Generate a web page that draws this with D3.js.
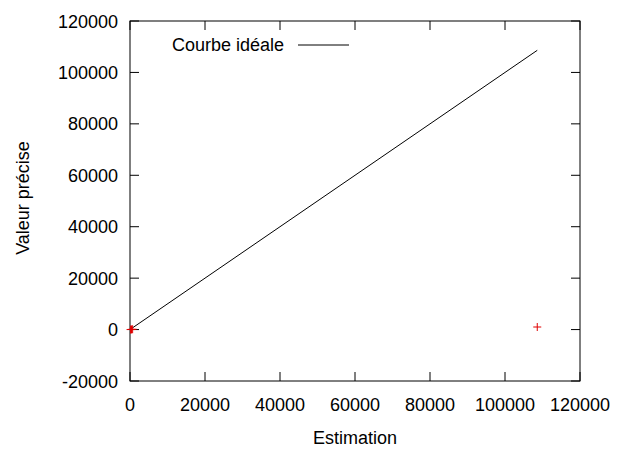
<!DOCTYPE html>
<html><head><meta charset="utf-8">
<script src="https://cdn.jsdelivr.net/npm/d3@7"></script>
<style>body{margin:0;background:#fff}svg{display:block}text{font-family:"Liberation Sans",Arial,sans-serif;font-size:18px;fill:#000}</style>
</head><body>
<script>
const xTicks = [0, 20000, 40000, 60000, 80000, 100000, 120000];
const yTicks = [-20000, 0, 20000, 40000, 60000, 80000, 100000, 120000];
const idealLine = [[0, 0], [108600, 108600]];
const pointsX = [150, 400, 700, 108600];
const pointsY = [0, 50, 120, 1000];
const legendLabel = "Courbe idéale";
const xLabel = "Estimation";
const yLabel = "Valeur précise";

const W = 622, H = 451;
const m = {l: 130, r: 580, t: 21, b: 381};
const svg = d3.select("body").append("svg").attr("width", W).attr("height", H);
const x = d3.scaleLinear().domain([0, 120000]).range([m.l, m.r]);
const y = d3.scaleLinear().domain([-20000, 120000]).range([m.b, m.t]);
const tl = 9;

const g = svg.append("g");
// ticks
const ax = d3.axisBottom(x).tickValues(xTicks).tickSize(0).tickPadding(0);
xTicks.forEach(v => {
  g.append("line").attr("x1", x(v)).attr("x2", x(v)).attr("y1", m.b).attr("y2", m.b - tl).attr("stroke", "#000");
  g.append("line").attr("x1", x(v)).attr("x2", x(v)).attr("y1", m.t).attr("y2", m.t + tl).attr("stroke", "#000");
  g.append("text").attr("x", x(v)).attr("y", 411).attr("text-anchor", "middle").text(v);
});
yTicks.forEach(v => {
  g.append("line").attr("x1", m.l).attr("x2", m.l + tl).attr("y1", y(v)).attr("y2", y(v)).attr("stroke", "#000");
  g.append("line").attr("x1", m.r).attr("x2", m.r - tl).attr("y1", y(v)).attr("y2", y(v)).attr("stroke", "#000");
  g.append("text").attr("x", 118).attr("y", y(v) + 6.5).attr("text-anchor", "end").text(v);
});
// frame
svg.append("rect").attr("x", m.l).attr("y", m.t).attr("width", m.r - m.l).attr("height", m.b - m.t)
  .attr("fill", "none").attr("stroke", "#000");

// ideal line
svg.append("path").datum(idealLine)
  .attr("d", d3.line().x(d => x(d[0])).y(d => y(d[1])))
  .attr("fill", "none").attr("stroke", "#000").attr("stroke-width", 1);

// points
const pts = pointsX.map((v, i) => [v, pointsY[i]]);
const s = 4;
svg.append("g").selectAll("path").data(pts).join("path")
  .attr("d", d => { const px = x(d[0]), py = y(d[1]); return `M${px - s},${py}H${px + s}M${px},${py - s}V${py + s}`; })
  .attr("stroke", "#e00000").attr("stroke-width", 1).attr("fill", "none");

// legend
svg.append("text").attr("x", 172).attr("y", 51).text(legendLabel);
svg.append("line").attr("x1", 298).attr("x2", 349).attr("y1", 45).attr("y2", 45).attr("stroke", "#000");

// axis labels
svg.append("text").attr("x", 355).attr("y", 444).attr("text-anchor", "middle").text(xLabel);
svg.append("text").attr("transform", "translate(29,198) rotate(-90)").attr("text-anchor", "middle").text(yLabel);
</script>
</body></html>
